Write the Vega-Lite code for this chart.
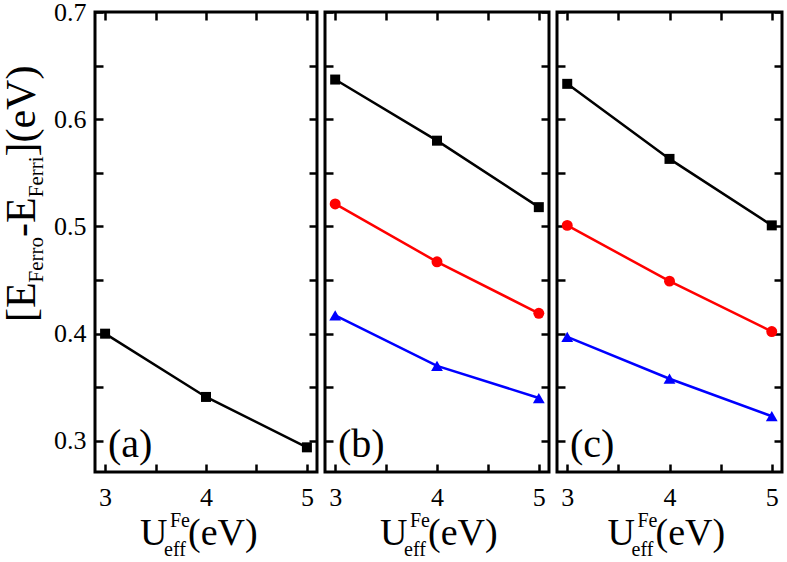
{
  "$schema": "https://vega.github.io/schema/vega-lite/v6.json",
  "padding": {"left": -1, "top": -3, "right": 0, "bottom": 0},
  "background": "white",
  "config": {
    "view": {"stroke": "black", "strokeWidth": 3},
    "font": "Liberation Serif",
    "axis": {"grid": false, "domain": false, "ticks": true, "tickSize": -8, "tickWidth": 2.5, "tickColor": "black", "labelFont": "Liberation Serif", "labelFontSize": 26, "labelColor": "black", "labelOverlap": false, "labelFlush": false},
    "legend": {"title": null, "orient": "none", "symbolSize": 2209, "labelFont": "Liberation Serif", "labelFontSize": 30, "labelColor": "black", "labelOffset": 10, "rowPadding": -7, "symbolStrokeWidth": 0, "padding": 0, "symbolOpacity": 1, "symbolFillColor": "black"},
    "text": {"font": "Liberation Serif", "color": "black"}
  },
  "datasets": {
    "d": [
      {"panel": "a", "s": "1.0", "U": 3, "E": 0.400},
      {"panel": "a", "s": "1.0", "U": 4, "E": 0.341},
      {"panel": "a", "s": "1.0", "U": 5, "E": 0.294},
      {"panel": "b", "s": "1.0", "U": 3, "E": 0.637},
      {"panel": "b", "s": "1.0", "U": 4, "E": 0.580},
      {"panel": "b", "s": "1.0", "U": 5, "E": 0.518},
      {"panel": "b", "s": "2.0", "U": 3, "E": 0.521},
      {"panel": "b", "s": "2.0", "U": 4, "E": 0.467},
      {"panel": "b", "s": "2.0", "U": 5, "E": 0.419},
      {"panel": "b", "s": "3.0", "U": 3, "E": 0.417},
      {"panel": "b", "s": "3.0", "U": 4, "E": 0.370},
      {"panel": "b", "s": "3.0", "U": 5, "E": 0.340},
      {"panel": "c", "s": "1.0", "U": 3, "E": 0.633},
      {"panel": "c", "s": "1.0", "U": 4, "E": 0.563},
      {"panel": "c", "s": "1.0", "U": 5, "E": 0.501},
      {"panel": "c", "s": "2.0", "U": 3, "E": 0.501},
      {"panel": "c", "s": "2.0", "U": 4, "E": 0.449},
      {"panel": "c", "s": "2.0", "U": 5, "E": 0.402},
      {"panel": "c", "s": "3.0", "U": 3, "E": 0.397},
      {"panel": "c", "s": "3.0", "U": 4, "E": 0.358},
      {"panel": "c", "s": "3.0", "U": 5, "E": 0.323}
    ]
  },
  "spacing": 8,
  "bounds": "flush",
  "resolve": {"scale": {"color": "independent", "fill": "independent", "shape": "independent"}, "legend": {"color": "independent", "fill": "independent", "shape": "independent"}},
  "hconcat": [
    {
      "width": 222, "height": 460,
      "layer": [
        {
          "data": {"name": "d"},
          "transform": [{"filter": "datum.panel === 'a'"}],
          "mark": {"type": "line", "color": "black", "strokeWidth": 2.5},
          "encoding": {
            "x": {"field": "U", "type": "quantitative", "scale": {"domain": [2.9, 5.1], "nice": false, "zero": false}, "axis": {"orient": "bottom", "values": [3, 3.5, 4, 4.5, 5], "labelExpr": "abs(datum.value - round(datum.value)) < 0.01 ? format(datum.value, 'd') : ''", "labelPadding": 20, "title": null}},
            "y": {"field": "E", "type": "quantitative", "scale": {"domain": [0.271, 0.7], "nice": false, "zero": false}, "axis": {"orient": "left", "values": [0.3, 0.35, 0.4, 0.45, 0.5, 0.55, 0.6, 0.65, 0.7], "labelExpr": "abs(datum.value*10 - round(datum.value*10)) < 0.01 ? format(datum.value, '.1f') : ''", "labelPadding": 17, "title": null}}
          }
        },
        {
          "data": {"name": "d"},
          "transform": [{"filter": "datum.panel === 'a'"}],
          "mark": {"type": "point", "shape": "square", "filled": true, "size": 100, "color": "black", "opacity": 1},
          "encoding": {
            "x": {"field": "U", "type": "quantitative", "axis": {"orient": "top", "values": [3, 3.5, 4, 4.5, 5], "labels": false, "title": null}},
            "y": {"field": "E", "type": "quantitative", "axis": {"orient": "right", "values": [0.3, 0.35, 0.4, 0.45, 0.5, 0.55, 0.6, 0.65, 0.7], "labels": false, "title": null}}
          }
        },
        {"data": {"values": [{}]}, "mark": {"type": "text", "text": "(a)", "fontSize": 40, "align": "left", "baseline": "alphabetic", "dx": 13, "dy": -15}, "encoding": {"x": {"datum": 2.9, "axis": null}, "y": {"datum": 0.271, "axis": null}}},
        {"data": {"values": [{}]}, "mark": {"type": "text", "text": "U", "fontSize": 38, "align": "left", "baseline": "alphabetic", "dx": -66, "dy": 73}, "encoding": {"x": {"datum": 4, "axis": null}, "y": {"datum": 0.271, "axis": null}}},
        {"data": {"values": [{}]}, "mark": {"type": "text", "text": "Fe", "fontSize": 20, "align": "left", "baseline": "alphabetic", "dx": -36, "dy": 55}, "encoding": {"x": {"datum": 4, "axis": null}, "y": {"datum": 0.271, "axis": null}}},
        {"data": {"values": [{}]}, "mark": {"type": "text", "text": "eff", "fontSize": 20, "align": "left", "baseline": "alphabetic", "dx": -42, "dy": 84}, "encoding": {"x": {"datum": 4, "axis": null}, "y": {"datum": 0.271, "axis": null}}},
        {"data": {"values": [{}]}, "mark": {"type": "text", "text": "(eV)", "fontSize": 38, "align": "left", "baseline": "alphabetic", "dx": -18, "dy": 73}, "encoding": {"x": {"datum": 4, "axis": null}, "y": {"datum": 0.271, "axis": null}}},
        {"data": {"values": [{}]}, "mark": {"type": "text", "text": "[E", "fontSize": 42, "angle": 270, "align": "left", "baseline": "alphabetic", "dx": 150, "dy": -60}, "encoding": {"x": {"datum": 2.9, "axis": null}, "y": {"datum": 0.271, "axis": null}}},
        {"data": {"values": [{}]}, "mark": {"type": "text", "text": "Ferro", "fontSize": 21, "angle": 270, "align": "left", "baseline": "alphabetic", "dx": 189.6, "dy": -52}, "encoding": {"x": {"datum": 2.9, "axis": null}, "y": {"datum": 0.271, "axis": null}}},
        {"data": {"values": [{}]}, "mark": {"type": "text", "text": "-E", "fontSize": 42, "angle": 270, "align": "left", "baseline": "alphabetic", "dx": 235, "dy": -60}, "encoding": {"x": {"datum": 2.9, "axis": null}, "y": {"datum": 0.271, "axis": null}}},
        {"data": {"values": [{}]}, "mark": {"type": "text", "text": "Ferri", "fontSize": 21, "angle": 270, "align": "left", "baseline": "alphabetic", "dx": 274.7, "dy": -52}, "encoding": {"x": {"datum": 2.9, "axis": null}, "y": {"datum": 0.271, "axis": null}}},
        {"data": {"values": [{}]}, "mark": {"type": "text", "text": "](eV)", "fontSize": 42, "angle": 270, "align": "left", "baseline": "alphabetic", "dx": 315.5, "dy": -60}, "encoding": {"x": {"datum": 2.9, "axis": null}, "y": {"datum": 0.271, "axis": null}}}
      ],
      "resolve": {"axis": {"x": "independent", "y": "independent"}}
    },
    {
      "width": 224, "height": 460,
      "layer": [
        {
          "data": {"name": "d"},
          "transform": [{"filter": "datum.panel === 'b'"}],
          "mark": {"type": "line", "strokeWidth": 2.5},
          "encoding": {
            "x": {"field": "U", "type": "quantitative", "scale": {"domain": [2.9, 5.1], "nice": false, "zero": false}, "axis": {"orient": "bottom", "values": [3, 3.5, 4, 4.5, 5], "labelExpr": "abs(datum.value - round(datum.value)) < 0.01 ? format(datum.value, 'd') : ''", "labelPadding": 20, "title": null}},
            "y": {"field": "E", "type": "quantitative", "scale": {"domain": [0.271, 0.7], "nice": false, "zero": false}, "axis": {"orient": "left", "values": [0.3, 0.35, 0.4, 0.45, 0.5, 0.55, 0.6, 0.65, 0.7], "labels": false, "title": null}},
            "color": {"field": "s", "type": "nominal", "scale": {"domain": ["1.0", "2.0", "3.0"], "range": ["#000000", "#ff0000", "#0000ff"]}, "legend": null}
          }
        },
        {
          "data": {"name": "d"},
          "transform": [{"filter": "datum.panel === 'b'"}],
          "mark": {"type": "point", "filled": true, "opacity": 1},
          "encoding": {
            "x": {"field": "U", "type": "quantitative", "axis": {"orient": "top", "values": [3, 3.5, 4, 4.5, 5], "labels": false, "title": null}},
            "y": {"field": "E", "type": "quantitative", "axis": {"orient": "right", "values": [0.3, 0.35, 0.4, 0.45, 0.5, 0.55, 0.6, 0.65, 0.7], "labels": false, "title": null}},
            "color": {"field": "s", "type": "nominal", "legend": null},
            "shape": {"condition": [{"test": "datum.s === '1.0'", "value": "square"}, {"test": "datum.s === '2.0'", "value": "circle"}], "value": "triangle-up"},
            "size": {"condition": [{"test": "datum.s === '1.0'", "value": 100}, {"test": "datum.s === '2.0'", "value": 120}], "value": 140}
          }
        },
        {
          "data": {"name": "d"},
          "transform": [{"filter": "datum.panel === 'b'"}],
          "mark": {"type": "point", "filled": true, "size": 0, "opacity": 1},
          "encoding": {
            "x": {"field": "U", "type": "quantitative", "axis": null},
            "y": {"field": "E", "type": "quantitative", "axis": null},
            "fill": {"field": "s", "type": "nominal", "scale": {"domain": ["1.0", "2.0", "3.0"], "range": ["#000000", "#ff0000", "#0000ff"]}, "legend": {"legendX": 121, "legendY": 10}},
            "shape": {"field": "s", "type": "nominal", "scale": {"domain": ["1.0", "2.0", "3.0"], "range": ["M-1,-0.055H1V0.055H-1Z M-0.21,-0.21H0.21V0.21H-0.21Z", "M-1,-0.055H1V0.055H-1Z M0.23,0A0.23,0.23 0 1,1 -0.23,0A0.23,0.23 0 1,1 0.23,0Z", "M-1,-0.055H1V0.055H-1Z M0,-0.28L0.27,0.19H-0.27Z"]}, "legend": {"legendX": 121, "legendY": 10}}
          }
        },
        {"data": {"values": [{}]}, "mark": {"type": "text", "text": "(b)", "fontSize": 40, "align": "left", "baseline": "alphabetic", "dx": 13, "dy": -15}, "encoding": {"x": {"datum": 2.9, "axis": null}, "y": {"datum": 0.271, "axis": null}}},
        {"data": {"values": [{}]}, "mark": {"type": "text", "text": "U", "fontSize": 38, "align": "left", "baseline": "alphabetic", "dx": -57, "dy": 73}, "encoding": {"x": {"datum": 4, "axis": null}, "y": {"datum": 0.271, "axis": null}}},
        {"data": {"values": [{}]}, "mark": {"type": "text", "text": "Fe", "fontSize": 20, "align": "left", "baseline": "alphabetic", "dx": -27, "dy": 55}, "encoding": {"x": {"datum": 4, "axis": null}, "y": {"datum": 0.271, "axis": null}}},
        {"data": {"values": [{}]}, "mark": {"type": "text", "text": "eff", "fontSize": 20, "align": "left", "baseline": "alphabetic", "dx": -33, "dy": 84}, "encoding": {"x": {"datum": 4, "axis": null}, "y": {"datum": 0.271, "axis": null}}},
        {"data": {"values": [{}]}, "mark": {"type": "text", "text": "(eV)", "fontSize": 38, "align": "left", "baseline": "alphabetic", "dx": -9, "dy": 73}, "encoding": {"x": {"datum": 4, "axis": null}, "y": {"datum": 0.271, "axis": null}}}
      ],
      "resolve": {"axis": {"x": "independent", "y": "independent"}}
    },
    {
      "width": 225, "height": 460,
      "layer": [
        {
          "data": {"name": "d"},
          "transform": [{"filter": "datum.panel === 'c'"}],
          "mark": {"type": "line", "strokeWidth": 2.5},
          "encoding": {
            "x": {"field": "U", "type": "quantitative", "scale": {"domain": [2.9, 5.1], "nice": false, "zero": false}, "axis": {"orient": "bottom", "values": [3, 3.5, 4, 4.5, 5], "labelExpr": "abs(datum.value - round(datum.value)) < 0.01 ? format(datum.value, 'd') : ''", "labelPadding": 20, "title": null}},
            "y": {"field": "E", "type": "quantitative", "scale": {"domain": [0.271, 0.7], "nice": false, "zero": false}, "axis": {"orient": "left", "values": [0.3, 0.35, 0.4, 0.45, 0.5, 0.55, 0.6, 0.65, 0.7], "labels": false, "title": null}},
            "color": {"field": "s", "type": "nominal", "scale": {"domain": ["1.0", "2.0", "3.0"], "range": ["#000000", "#ff0000", "#0000ff"]}, "legend": null}
          }
        },
        {
          "data": {"name": "d"},
          "transform": [{"filter": "datum.panel === 'c'"}],
          "mark": {"type": "point", "filled": true, "opacity": 1},
          "encoding": {
            "x": {"field": "U", "type": "quantitative", "axis": {"orient": "top", "values": [3, 3.5, 4, 4.5, 5], "labels": false, "title": null}},
            "y": {"field": "E", "type": "quantitative", "axis": {"orient": "right", "values": [0.3, 0.35, 0.4, 0.45, 0.5, 0.55, 0.6, 0.65, 0.7], "labels": false, "title": null}},
            "color": {"field": "s", "type": "nominal", "legend": null},
            "shape": {"condition": [{"test": "datum.s === '1.0'", "value": "square"}, {"test": "datum.s === '2.0'", "value": "circle"}], "value": "triangle-up"},
            "size": {"condition": [{"test": "datum.s === '1.0'", "value": 100}, {"test": "datum.s === '2.0'", "value": 120}], "value": 140}
          }
        },
        {
          "data": {"name": "d"},
          "transform": [{"filter": "datum.panel === 'c'"}],
          "mark": {"type": "point", "filled": true, "size": 0, "opacity": 1},
          "encoding": {
            "x": {"field": "U", "type": "quantitative", "axis": null},
            "y": {"field": "E", "type": "quantitative", "axis": null},
            "fill": {"field": "s", "type": "nominal", "scale": {"domain": ["1.0", "2.0", "3.0"], "range": ["#000000", "#ff0000", "#0000ff"]}, "legend": {"legendX": 119, "legendY": 13}},
            "shape": {"field": "s", "type": "nominal", "scale": {"domain": ["1.0", "2.0", "3.0"], "range": ["M-1,-0.055H1V0.055H-1Z M-0.21,-0.21H0.21V0.21H-0.21Z", "M-1,-0.055H1V0.055H-1Z M0.23,0A0.23,0.23 0 1,1 -0.23,0A0.23,0.23 0 1,1 0.23,0Z", "M-1,-0.055H1V0.055H-1Z M0,-0.28L0.27,0.19H-0.27Z"]}, "legend": {"legendX": 119, "legendY": 13}}
          }
        },
        {"data": {"values": [{}]}, "mark": {"type": "text", "text": "(c)", "fontSize": 40, "align": "left", "baseline": "alphabetic", "dx": 13, "dy": -15}, "encoding": {"x": {"datum": 2.9, "axis": null}, "y": {"datum": 0.271, "axis": null}}},
        {"data": {"values": [{}]}, "mark": {"type": "text", "text": "U", "fontSize": 38, "align": "left", "baseline": "alphabetic", "dx": -62, "dy": 73}, "encoding": {"x": {"datum": 4, "axis": null}, "y": {"datum": 0.271, "axis": null}}},
        {"data": {"values": [{}]}, "mark": {"type": "text", "text": "Fe", "fontSize": 20, "align": "left", "baseline": "alphabetic", "dx": -32, "dy": 55}, "encoding": {"x": {"datum": 4, "axis": null}, "y": {"datum": 0.271, "axis": null}}},
        {"data": {"values": [{}]}, "mark": {"type": "text", "text": "eff", "fontSize": 20, "align": "left", "baseline": "alphabetic", "dx": -38, "dy": 84}, "encoding": {"x": {"datum": 4, "axis": null}, "y": {"datum": 0.271, "axis": null}}},
        {"data": {"values": [{}]}, "mark": {"type": "text", "text": "(eV)", "fontSize": 38, "align": "left", "baseline": "alphabetic", "dx": -14, "dy": 73}, "encoding": {"x": {"datum": 4, "axis": null}, "y": {"datum": 0.271, "axis": null}}}
      ],
      "resolve": {"axis": {"x": "independent", "y": "independent"}}
    }
  ]
}
